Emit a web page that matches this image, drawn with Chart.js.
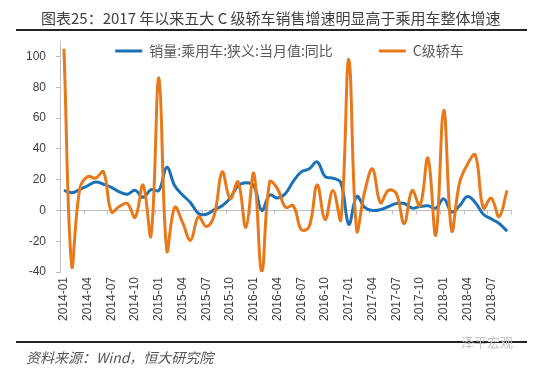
<!DOCTYPE html>
<html>
<head>
<meta charset="utf-8">
<script src="https://cdn.jsdelivr.net/npm/chart.js"></script>
<style>
	html, body { margin: 0; padding: 0; background: #fff; }
	#wrap { position: relative; width: 550px; height: 373px; overflow: hidden; background: #fff; }
	#salesChart { position: absolute; left: 0; top: 0; }
	.title { position: absolute; left: 41px; top: 8px; font: 15px "Noto Sans CJK SC"; line-height: 20px; color: #404040; white-space: nowrap; }
	.source { position: absolute; left: 26px; top: 347px; font: italic 14px "Noto Sans CJK SC"; line-height: 20px; color: #555; white-space: nowrap; }
	.mark { position: absolute; left: 461px; top: 333px; font: 13px "Noto Sans CJK SC"; line-height: 18px; color: #c4c4c4; white-space: nowrap; }
</style>
</head>
<body>
<div id="wrap">
	<canvas id="salesChart" width="550" height="373"></canvas>
	<div class="title">图表25：2017 年以来五大 C 级轿车销售增速明显高于乘用车整体增速</div>
	<div class="mark">泽平宏观</div>
	<div class="source">资料来源：Wind，恒大研究院</div>
</div>
<script>
const months = [
	'2014-01','2014-02','2014-03','2014-04','2014-05','2014-06','2014-07','2014-08','2014-09','2014-10','2014-11','2014-12',
	'2015-01','2015-02','2015-03','2015-04','2015-05','2015-06','2015-07','2015-08','2015-09','2015-10','2015-11','2015-12',
	'2016-01','2016-02','2016-03','2016-04','2016-05','2016-06','2016-07','2016-08','2016-09','2016-10','2016-11','2016-12',
	'2017-01','2017-02','2017-03','2017-04','2017-05','2017-06','2017-07','2017-08','2017-09','2017-10','2017-11','2017-12',
	'2018-01','2018-02','2018-03','2018-04','2018-05','2018-06','2018-07','2018-08','2018-09'
];

// 销量:乘用车:狭义:当月值:同比 (%)
const passengerYoY = [
	13, 11.5, 13.5, 16, 18.5, 17, 15, 12, 10.5, 13, 8.5, 13.5,
	13, 28, 16, 10, 5, -2, -2.5, 0.5, 3, 8, 16, 18,
	16, 0, 10, 8, 11, 19, 25, 27, 31.5, 22, 21, 18,
	-9, 9, 2, 0, 0.5, 2.5, 4.5, 4.5, 1.5, 2.5, 3, 1.5,
	7.5, -1, 3, 9, 5, -2.5, -5.5, -8.5, -13.5
];

// C级轿车 (%)
const classCYoY = [
	105, -37, 14, 22, 21, 25, -1, 2.5, 4.5, -4.5, 16.5, -16.5,
	86, -26, 2, -8, -19.5, -4, -10.5, -3, 25, 7.5, 18.5, -11,
	24, -40, 18.5, 14, 2, 3, -12.5, -10.5, 16.5, -6, 13, -6,
	98, -13, 12, 27, 5, 13, 11, -8.5, 13, 3, 34, -16,
	65, -13, 18, 30, 36, 1.5, 8, -4, 13
];

const seriesNames = ['销量:乘用车:狭义:当月值:同比', 'C级轿车'];
const seriesColors = ['#1a71b6', '#e8791a'];

const axisGray = '#bfbfbf';
const legendGap = 46;

// short ticks under the zero line, one every three months
const zeroTicks = {
	id: 'zeroTicks',
	beforeDatasetsDraw(chart) {
		const {ctx, scales: {x, y}} = chart;
		const y0 = y.getPixelForValue(0);
		const half = (x.getPixelForValue(1) - x.getPixelForValue(0)) / 2;
		ctx.save();
		ctx.strokeStyle = axisGray;
		ctx.lineWidth = 1;
		ctx.beginPath();
		for (let i = 3; i <= months.length; i += 3) {
			const px = Math.round(x.getPixelForValue(i) - half) + 0.5;
			ctx.moveTo(px, y0);
			ctx.lineTo(px, y0 + 4);
		}
		ctx.stroke();
		ctx.restore();
	}
};

// the black rules under the title and above the source line
const pageRules = {
	id: 'pageRules',
	afterDraw(chart) {
		const {ctx} = chart;
		ctx.save();
		ctx.fillStyle = '#222';
		ctx.fillRect(16, 29, 511, 2);
		ctx.fillRect(16, 341, 511, 2);
		ctx.restore();
	}
};

// legend sits inside the plot, near its top edge
const legendSpot = {
	id: 'legendSpot',
	afterLayout(chart) {
		const lg = chart.legend;
		lg.left = 40;
		lg.right = 539;
		lg.top = 51 - legendGap - 7;
		lg.bottom = lg.top + 80;
		lg.width = lg.right - lg.left;
		lg.height = 80;
	}
};

Chart.defaults.font.family = '"Liberation Sans", Arial, sans-serif';
Chart.defaults.color = '#404040';

new Chart(document.getElementById('salesChart'), {
	type: 'line',
	data: {
		labels: months,
		datasets: [{
			label: seriesNames[0],
			data: passengerYoY,
			borderColor: seriesColors[0],
			backgroundColor: seriesColors[0],
			borderWidth: 3,
			pointRadius: 0,
			tension: 0.4,
			order: 1
		}, {
			label: seriesNames[1],
			data: classCYoY,
			borderColor: seriesColors[1],
			backgroundColor: seriesColors[1],
			borderWidth: 3,
			pointRadius: 0,
			tension: 0.4,
			order: 0
		}]
	},
	options: {
		responsive: false,
		animation: false,
		layout: {padding: {left: 0, right: 39, top: 40, bottom: 41}},
		plugins: {
			title: {display: false},
			tooltip: {enabled: false},
			legend: {
				position: 'top',
				align: 'center',
				reverse: true,
				maxHeight: 1,
				labels: {
					boxWidth: 27,
					boxHeight: 0,
					padding: legendGap,
					color: '#595959',
					font: {family: '"Noto Sans CJK SC"', size: 14}
				}
			}
		},
		scales: {
			x: {
				offset: true,
				grid: {display: false, drawTicks: false},
				border: {display: false},
				afterFit: (scale) => { scale.height = 60; },
				ticks: {
					autoSkip: false,
					minRotation: 90,
					maxRotation: 90,
					padding: 5,
					font: {size: 12},
					callback: (v, i) => (i % 3 === 0 ? months[i] : '')
				}
			},
			y: {
				min: -40,
				max: 110,
				afterFit: (scale) => { scale.width = 60; },
				border: {display: true, color: axisGray, width: 1},
				grid: {
					drawTicks: true,
					tickLength: 4,
					color: (c) => (c.tick && c.tick.value === 0 ? axisGray : 'rgba(0,0,0,0)'),
					tickColor: (c) => (c.tick && c.tick.value === 110 ? 'rgba(0,0,0,0)' : axisGray)
				},
				ticks: {
					stepSize: 20,
					padding: 10,
					font: {size: 12},
					callback: (v) => (v === 110 ? '' : v)
				}
			}
		}
	},
	plugins: [zeroTicks, legendSpot, pageRules]
});
</script>
</body>
</html>
